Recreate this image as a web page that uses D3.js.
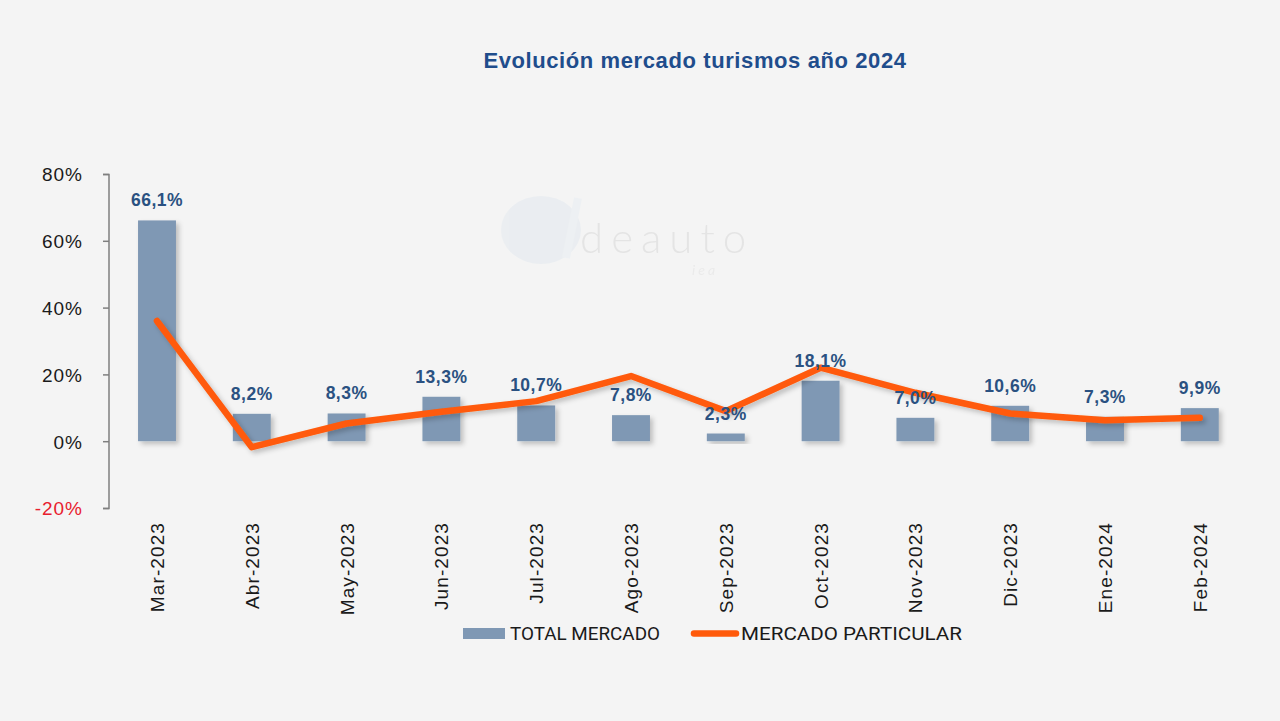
<!DOCTYPE html>
<html><head><meta charset="utf-8">
<script src="https://cdn.jsdelivr.net/npm/d3@7"></script>
<style>
html,body{margin:0;padding:0;background:#f4f4f4;}
svg{display:block;}
</style></head>
<body>
<svg id="chart" width="1280" height="721"></svg>
<script>
const categories = ["Mar-2023","Abr-2023","May-2023","Jun-2023","Jul-2023","Ago-2023","Sep-2023","Oct-2023","Nov-2023","Dic-2023","Ene-2024","Feb-2024"];
const totalMercado = [66.1, 8.2, 8.3, 13.3, 10.7, 7.8, 2.3, 18.1, 7.0, 10.6, 7.3, 9.9];
const mercadoParticular = [36.0, -1.8, 5.3, 8.8, 12.0, 19.5, 9.0, 22.0, 14.5, 8.3, 6.3, 7.0];
const yTicks = [-20, 0, 20, 40, 60, 80];
const title = "Evolución mercado turismos año 2024";
const seriesNames = ["TOTAL MERCADO", "MERCADO PARTICULAR"];

const svg = d3.select("#chart");
svg.append("rect").attr("width",1280).attr("height",721).attr("fill","#f4f4f4");

const defs = svg.append("defs");
const f = defs.append("filter").attr("id","shadow").attr("x","-30%").attr("y","-30%").attr("width","160%").attr("height","160%");
f.append("feDropShadow").attr("dx",3).attr("dy",3).attr("stdDeviation",2.5).attr("flood-color","#000").attr("flood-opacity",0.22);

const x = d3.scaleBand().domain(categories).range([109.6, 1247.2]).paddingInner(0.6).paddingOuter(0.3);
const y = d3.scaleLinear().domain([-20, 80]).range([508, 174]);

// watermark
const wm = svg.append("g").attr("opacity",0.55);
wm.append("ellipse").attr("cx",541).attr("cy",230).attr("rx",40).attr("ry",34).attr("fill","#e3e9ef");
wm.append("line").attr("x1",578).attr("y1",198).attr("x2",566).attr("y2",258).attr("stroke","#e9eef3").attr("stroke-width",8);
wm.append("text").attr("x",580).attr("y",253).attr("font-family","Lato, sans-serif").attr("font-weight",300).attr("font-size",42)
  .attr("letter-spacing",8).attr("fill","#d8d8d8").text("deauto");
wm.append("text").attr("x",692).attr("y",275).attr("font-family","Lato, sans-serif").attr("font-style","italic").attr("font-size",14)
  .attr("letter-spacing",3).attr("fill","#e3e3e3").text("iea");

// title
svg.append("text").attr("x",695).attr("y",68).attr("text-anchor","middle")
  .attr("font-family","Liberation Sans, Arial, sans-serif").attr("font-weight","bold").attr("font-size",22)
  .attr("letter-spacing",0.6).attr("fill","#1f4d8c").text(title);

// y axis
const yAxis = d3.axisLeft(y).tickValues(yTicks).tickSize(6).tickFormat(d => d + "%");
const ya = svg.append("g").attr("transform","translate(109,0)").call(yAxis);
ya.select(".domain").attr("stroke","#7f7f7f").attr("stroke-width",1.5).attr("d","M-6,174.5H0V508.5H-6");
ya.selectAll(".tick line").attr("stroke","#7f7f7f").attr("stroke-width",1.5);
ya.selectAll(".tick text").attr("x",-26).attr("dy","0.36em")
  .attr("font-family","Liberation Sans, Arial, sans-serif").attr("font-size",19).attr("letter-spacing",1.0)
  .attr("fill", d => d < 0 ? "#e8202e" : "#1a1a1a");

// bars
svg.append("g").selectAll("rect").data(categories).join("rect")
  .attr("x", d => x(d)).attr("width", x.bandwidth())
  .attr("y", (d,i) => y(Math.max(0,totalMercado[i])))
  .attr("height", (d,i) => Math.abs(y(totalMercado[i]) - y(0)))
  .attr("fill","#7f98b4").attr("filter","url(#shadow)");

// line
const line = d3.line().x((d,i) => x(categories[i]) + x.bandwidth()/2).y(d => y(d));
svg.append("path").datum(mercadoParticular).attr("d", line)
  .attr("fill","none").attr("stroke","#ff5a0a").attr("stroke-width",6.5)
  .attr("stroke-linejoin","round").attr("stroke-linecap","round").attr("filter","url(#shadow)");

// bar labels
svg.append("g").selectAll("text").data(categories).join("text")
  .attr("x", d => x(d) + x.bandwidth()/2)
  .attr("y", (d,i) => y(totalMercado[i]) - 14)
  .attr("text-anchor","middle")
  .attr("font-family","Liberation Sans, Arial, sans-serif").attr("font-weight","bold").attr("font-size",17.5)
  .attr("letter-spacing",0.5).attr("fill","#2a5181")
  .text((d,i) => totalMercado[i].toFixed(1).replace(".", ",") + "%");

// x labels
svg.append("g").selectAll("text").data(categories).join("text")
  .attr("transform", d => `translate(${x(d) + x.bandwidth()/2 + 7},522) rotate(-90)`)
  .attr("text-anchor","end")
  .attr("font-family","Liberation Sans, Arial, sans-serif").attr("font-size",19).attr("letter-spacing",1.1)
  .attr("fill","#1a1a1a").text(d => d);

// legend
const lg = svg.append("g");
lg.append("rect").attr("x",463).attr("y",628).attr("width",42).attr("height",11).attr("fill","#7f98b4");
lg.append("text").attr("x",510).attr("y",640).attr("font-family","Roboto, sans-serif").attr("font-size",18)
  .attr("textLength",150).attr("lengthAdjust","spacingAndGlyphs").attr("fill","#1a1a1a").text(seriesNames[0]);
lg.append("line").attr("x1",694).attr("x2",736).attr("y1",633.5).attr("y2",633.5)
  .attr("stroke","#ff5a0a").attr("stroke-width",6.5).attr("stroke-linecap","round");
lg.append("text").attr("x",741).attr("y",640).attr("font-family","Roboto, sans-serif").attr("font-size",18)
  .attr("textLength",221).attr("lengthAdjust","spacingAndGlyphs").attr("fill","#1a1a1a").text(seriesNames[1]);
</script>
</body></html>
